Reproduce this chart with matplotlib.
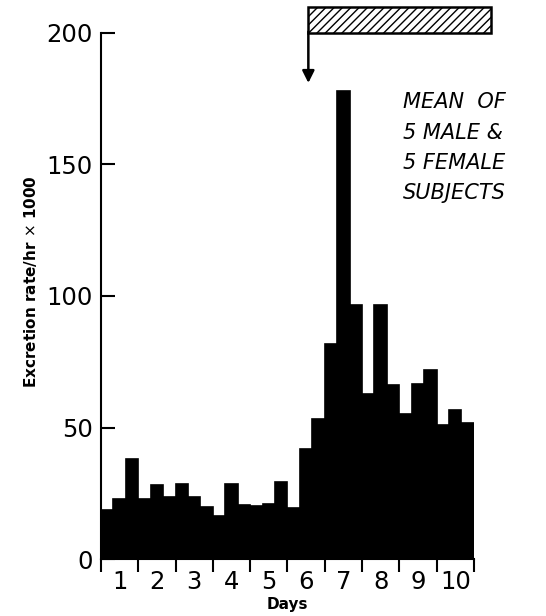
import matplotlib.pyplot as plt
from matplotlib.patches import Rectangle

# excretion rate per 8-hour period (x 1000), 3 periods per day
rates = [18.6, 22.7, 38.1, 22.7, 28.0, 23.4, 28.7, 23.4, 19.6, 16.3,
         28.7, 20.4, 20.1, 21.1, 29.2, 19.4, 41.7, 53.4, 81.7, 178.0,
         96.5, 62.7, 96.5, 66.0, 55.0, 66.7, 71.8, 50.9, 56.6, 51.9]
periods_per_day = 3
day_labels = ["1", "2", "3", "4", "5", "6", "7", "8", "9", "10"]
y_ticks = [0, 50, 100, 150, 200]

# treatment period box (in days / y units)
treat_start = 5.56
treat_end = 10.46
note = "MEAN  OF\n5 MALE &\n5 FEMALE\nSUBJECTS"


def plot_excretion():
    fig = plt.figure(figsize=(5.46, 6.16), dpi=100)
    ax = fig.add_axes([0.185, 0.0925, 0.683, 0.854])

    x = [i / periods_per_day for i in range(len(rates))]
    ax.bar(x, rates, width=1 / periods_per_day, align="edge",
           color="black", edgecolor="black", linewidth=1.2)

    ax.set_xlim(0, 10)
    ax.set_ylim(0, 200)
    ax.spines["top"].set_visible(False)
    ax.spines["right"].set_visible(False)
    ax.spines["left"].set_linewidth(1.5)
    ax.spines["bottom"].set_linewidth(1.5)

    ax.set_yticks(y_ticks)
    ax.set_yticklabels([str(v) for v in y_ticks])
    ax.tick_params(axis="y", direction="in", length=10, width=1.5,
                   labelsize=17.5, pad=6)

    ax.set_xticks(range(11))
    ax.set_xticklabels([])
    ax.tick_params(axis="x", which="major", direction="out", length=9, width=1.5)
    ax.set_xticks([i + 0.5 for i in range(10)], minor=True)
    ax.set_xticklabels(day_labels, minor=True)
    ax.tick_params(axis="x", which="minor", length=0, labelsize=17.5, pad=8)

    ax.set_xlabel("Days", fontsize=11, fontweight="bold", labelpad=2)
    ax.set_ylabel("Excretion rate/hr $\\times$ 1000", fontsize=11,
                  fontweight="bold")
    ax.yaxis.set_label_coords(-0.165, 0.527)

    # hatched bar marking treatment + arrow
    box = Rectangle((treat_start, 200), treat_end - treat_start, 10,
                    facecolor="white", edgecolor="black", hatch="////",
                    linewidth=1.8, clip_on=False)
    ax.add_patch(box)
    ax.annotate("", xy=(treat_start, 181), xytext=(treat_start, 200.5),
                arrowprops=dict(arrowstyle="-|>", color="black", lw=1.8,
                                mutation_scale=18, shrinkA=0, shrinkB=0),
                annotation_clip=False)

    ax.text(8.1, 177.5, note, fontsize=15, style="italic", va="top", ha="left",
            linespacing=1.65)

    fig.savefig("out.png", dpi=100)


if __name__ == "__main__":
    plot_excretion()
